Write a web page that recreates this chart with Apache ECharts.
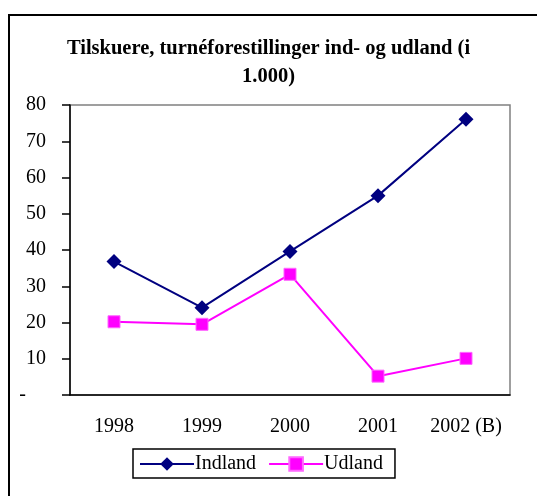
<!DOCTYPE html>
<html>
<head>
    <meta charset="UTF-8"/>
    <title>Tilskuere</title>
    <script src="https://cdn.jsdelivr.net/npm/echarts@6.0.0/dist/echarts.min.js"></script>
    <style>
        * { margin: 0; padding: 0; }
        body { background: #fff; }
        #chart { width: 537px; height: 496px; }
    </style>
</head>
<body>
<div id="chart"></div>
<script>
    // data (in 1.000)
    const years = ['1998', '1999', '2000', '2001', '2002 (B)'];
    const indland = [36.8, 24.1, 39.6, 55.0, 76.1];
    const udland = [20.2, 19.5, 33.3, 5.2, 10.1];
    const yTicks = [0, 10, 20, 30, 40, 50, 60, 70, 80];

    const font = "'Liberation Serif', 'Times New Roman', serif";
    const chart = echarts.init(document.getElementById('chart'));

    chart.setOption({
        animation: false,
        textStyle: { fontFamily: font, color: '#000' },
        title: {
            text: 'Tilskuere, turnéforestillinger ind- og udland (i\n1.000)',
            left: 'center',
            top: 30,
            textStyle: { fontFamily: font, fontSize: 20.5, fontWeight: 'bold', lineHeight: 28, color: '#000' }
        },
        graphic: [{
            type: 'rect',
            shape: { x: 9, y: 15, width: 600, height: 600 },
            style: { fill: null, stroke: '#000', lineWidth: 2 },
            silent: true
        }],
        legend: {
            left: 133,
            top: 449,
            itemGap: 12,
            itemWidth: 54,
            itemHeight: 17,
            padding: [5, 12, 4, 6],
            borderColor: '#000',
            borderWidth: 1.5,
            textStyle: { fontFamily: font, fontSize: 20, color: '#000', padding: [0, 0, 0, -4] },
            data: ['Indland', 'Udland']
        },
        grid: {
            left: 70, top: 105, width: 440, height: 290,
            show: true, borderColor: '#808080', borderWidth: 1.5
        },
        xAxis: {
            type: 'category',
            data: years,
            boundaryGap: true,
            axisLine: { lineStyle: { color: '#000', width: 1.5 } },
            axisTick: { length: 7, lineStyle: { color: '#000', width: 1.5 } },
            axisLabel: { fontFamily: font, fontSize: 20, color: '#000', margin: 22, interval: 0 }
        },
        yAxis: {
            type: 'value',
            min: yTicks[0],
            max: yTicks[yTicks.length - 1],
            interval: 10,
            splitLine: { show: false },
            axisLine: { show: true, lineStyle: { color: '#000', width: 1.5 } },
            axisTick: { show: true, length: 8, lineStyle: { color: '#000', width: 1.5 } },
            axisLabel: {
                fontFamily: font, fontSize: 20, color: '#000', margin: 24,
                formatter: v => v === 0 ? '{d|-}' : String(v),
                rich: { d: { fontFamily: font, fontSize: 20, color: '#000', padding: [0, 20, 0, 0] } }
            }
        },
        series: [{
            name: 'Indland',
            type: 'line',
            data: indland,
            symbol: 'diamond',
            symbolSize: 15,
            color: '#000080',
            lineStyle: { color: '#000080', width: 2 },
            itemStyle: { color: '#000080' }
        }, {
            name: 'Udland',
            type: 'line',
            data: udland,
            symbol: 'rect',
            symbolSize: 12,
            color: '#ff00ff',
            lineStyle: { color: '#ff00ff', width: 2 },
            itemStyle: { color: '#ff00ff', borderColor: '#ff66ff', borderWidth: 1 }
        }]
    });
</script>
</body>
</html>
